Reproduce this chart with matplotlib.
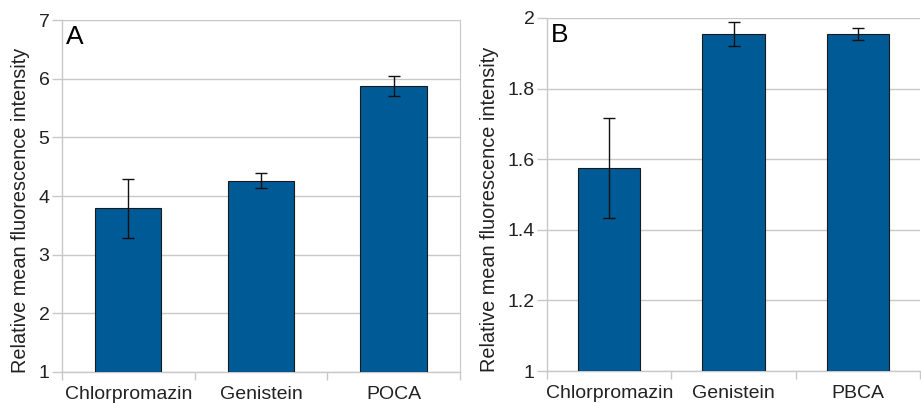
import matplotlib.pyplot as plt
import numpy as np

plt.rcParams["font.family"] = ["Liberation Sans", "DejaVu Sans"]

# Panel A data
cats_a = ["Chlorpromazin", "Genistein", "POCA"]
vals_a = [3.79, 4.26, 5.87]
errs_a = [0.50, 0.13, 0.17]

# Panel B data
cats_b = ["Chlorpromazin", "Genistein", "PBCA"]
vals_b = [1.575, 1.955, 1.955]
errs_b = [0.142, 0.033, 0.016]

BAR_COLOR = "#005a96"
GRID_COLOR = "#c8c8c8"
TEXT_COLOR = "#222222"
YLABEL = "Relative mean fluorescence intensity"


def draw_panel(ax, cats, vals, errs, ylim, yticks, yticklabels, letter, label_x):
    x = np.arange(len(cats))
    ax.bar(x, np.array(vals) - ylim[0], bottom=ylim[0], width=0.5,
           color=BAR_COLOR, edgecolor="#1a1a1a", linewidth=0.8, zorder=3)
    ax.errorbar(x, vals, yerr=errs, fmt="none", ecolor="#111111",
                elinewidth=1.0, capsize=4, capthick=1.0, zorder=4)
    ax.set_xlim(-0.5, len(cats) - 0.5)
    ax.set_ylim(*ylim)
    ax.set_yticks(yticks)
    ax.set_yticklabels(yticklabels)
    ax.set_xticks(x)
    ax.set_xticklabels(cats)
    ax.set_xticks(np.arange(len(cats) + 1) - 0.5, minor=True)
    ax.tick_params(axis="x", which="major", length=0, pad=10,
                   labelsize=14, labelcolor=TEXT_COLOR)
    ax.tick_params(axis="x", which="minor", length=6, color=GRID_COLOR, width=1)
    ax.tick_params(axis="y", length=7, color=GRID_COLOR, width=1, pad=2,
                   labelsize=14, labelcolor=TEXT_COLOR)
    ax.grid(axis="y", color=GRID_COLOR, linewidth=1, zorder=0)
    for side in ["top", "right"]:
        ax.spines[side].set_visible(False)
    for side in ["left", "bottom"]:
        ax.spines[side].set_color(GRID_COLOR)
        ax.spines[side].set_linewidth(1)
    ax.set_ylabel(YLABEL, fontsize=14.3, color=TEXT_COLOR)
    ax.yaxis.set_label_coords(label_x, 0.458)
    ax.text(0.01, 0.985, letter, transform=ax.transAxes, fontsize=19,
            va="top", ha="left", color="#000000")


fig = plt.figure(figsize=(9.21, 4.03), dpi=100)
ax_a = fig.add_axes([0.0673, 0.077, 0.432, 0.873])
ax_b = fig.add_axes([0.594, 0.0794, 0.405, 0.876])

draw_panel(ax_a, cats_a, vals_a, errs_a, (1, 7), [1, 2, 3, 4, 5, 6, 7],
           ["1", "2", "3", "4", "5", "6", "7"], "A", -0.08)
draw_panel(ax_b, cats_b, vals_b, errs_b, (1, 2), [1, 1.2, 1.4, 1.6, 1.8, 2],
           ["1", "1.2", "1.4", "1.6", "1.8", "2"], "B", -0.129)

# thin separator on the right side of panel A
ax_a.spines["right"].set_visible(True)
ax_a.spines["right"].set_color(GRID_COLOR)

fig.savefig("out.png", dpi=100)
